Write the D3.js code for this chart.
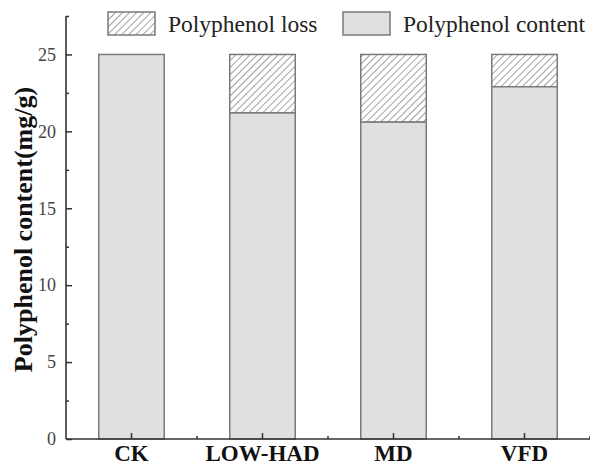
<!DOCTYPE html>
<html><head><meta charset="utf-8">
<script src="https://cdn.jsdelivr.net/npm/d3@7"></script>
<style>body{margin:0;background:#fff}svg{display:block}</style>
</head><body>
<script>
const categories = ["CK", "LOW-HAD", "MD", "VFD"];
const contentValues = [25.0, 21.2, 20.6, 22.9];
const totalValues = [25.0, 25.0, 25.0, 25.0];
const yTicks = [0, 5, 10, 15, 20, 25];
const yMinorTicks = [2.5, 7.5, 12.5, 17.5, 22.5, 27.5];
const legendLabels = ["Polyphenol loss", "Polyphenol content"];
const yLabel = "Polyphenol content(mg/g)";

const W = 590, H = 466;
const serif = "Liberation Serif, Times New Roman, serif";
const svg = d3.select("body").append("svg").attr("width", W).attr("height", H);
const defs = svg.append("defs");
const pat = defs.append("pattern").attr("id", "hatch").attr("patternUnits", "userSpaceOnUse")
  .attr("width", 5).attr("height", 5).attr("patternTransform", "rotate(45)");
pat.append("rect").attr("width", 5).attr("height", 5).attr("fill", "#fff");
pat.append("line").attr("x1", 0).attr("y1", 0).attr("x2", 0).attr("y2", 5)
  .attr("stroke", "#8a8a8a").attr("stroke-width", 1.6);

const x = d3.scaleBand().domain(categories).range([66, 590]).paddingInner(0.5).paddingOuter(0.25);
const y = d3.scaleLinear().domain([0, 27.5]).range([439, 16]);

const barFill = "#e0e0e0", barStroke = "#7a7a7a";
const g = svg.append("g");
g.selectAll("rect.loss").data(categories).join("rect").attr("class", "loss")
  .attr("x", d => x(d)).attr("width", x.bandwidth())
  .attr("y", (d, i) => y(totalValues[i]))
  .attr("height", (d, i) => y(contentValues[i]) - y(totalValues[i]))
  .attr("fill", "url(#hatch)").attr("stroke", barStroke).attr("stroke-width", 1.5);
g.selectAll("rect.content").data(categories).join("rect").attr("class", "content")
  .attr("x", d => x(d)).attr("width", x.bandwidth())
  .attr("y", (d, i) => y(contentValues[i]))
  .attr("height", (d, i) => y(0) - y(contentValues[i]))
  .attr("fill", barFill).attr("stroke", barStroke).attr("stroke-width", 1.5);

const axisColor = "#333";
const yAxis = svg.append("g").attr("transform", "translate(66,0)")
  .call(d3.axisRight(y).tickValues(yTicks).tickSize(6).tickFormat(""));
yAxis.select(".domain").attr("d", `M0,${y(27.5)}H0V${y(0)}`);
svg.append("g").attr("transform", "translate(66,0)")
  .call(d3.axisRight(y).tickValues(yMinorTicks).tickSize(3).tickFormat(""))
  .select(".domain").remove();
svg.selectAll(".tick line").attr("stroke", axisColor).attr("stroke-width", 1.5);
yAxis.select(".domain").attr("stroke", axisColor).attr("stroke-width", 1.6);
svg.append("g").selectAll("text").data(yTicks).join("text")
  .attr("x", 56).attr("y", d => y(d)).attr("dy", "0.35em").attr("text-anchor", "end")
  .attr("font-family", serif).attr("font-size", 18)
  .attr("fill", "#444").text(d => d);

const xAxisG = svg.append("g").attr("transform", `translate(0,${y(0)})`);
xAxisG.append("line").attr("x1", 66).attr("x2", 590).attr("stroke", axisColor).attr("stroke-width", 1.6);
xAxisG.selectAll("line.maj").data(categories).join("line").attr("class", "maj")
  .attr("x1", d => x(d) + x.bandwidth() / 2).attr("x2", d => x(d) + x.bandwidth() / 2)
  .attr("y1", 0).attr("y2", -6).attr("stroke", axisColor).attr("stroke-width", 1.5);
xAxisG.selectAll("line.min").data(categories).join("line").attr("class", "min")
  .attr("x1", d => x(d) + x.bandwidth() / 2 + x.step() / 2).attr("x2", d => x(d) + x.bandwidth() / 2 + x.step() / 2)
  .attr("y1", 0).attr("y2", -3).attr("stroke", axisColor).attr("stroke-width", 1.5);
xAxisG.selectAll("text").data(categories).join("text")
  .attr("x", d => x(d) + x.bandwidth() / 2).attr("y", 22).attr("text-anchor", "middle")
  .attr("font-family", serif).attr("font-size", 23)
  .attr("font-weight", "bold").attr("fill", "#111").text(d => d);

svg.append("text").attr("transform", `translate(32,${(y(0) + y(27.5)) / 2 + 2}) rotate(-90)`)
  .attr("text-anchor", "middle").attr("font-family", serif)
  .attr("font-size", 26).attr("font-weight", "bold").attr("fill", "#111").text(yLabel);

const leg = [{x: 108, fill: "url(#hatch)", label: legendLabels[0]}, {x: 343, fill: barFill, label: legendLabels[1]}];
const lg = svg.append("g").selectAll("g").data(leg).join("g");
lg.append("rect").attr("x", d => d.x).attr("y", 12).attr("width", 47).attr("height", 23)
  .attr("fill", d => d.fill).attr("stroke", barStroke).attr("stroke-width", 1.5);
lg.append("text").attr("x", d => d.x + 60).attr("y", 32)
  .attr("font-family", serif).attr("font-size", 23.5)
  .attr("fill", "#222").text(d => d.label);
</script>
</body></html>
